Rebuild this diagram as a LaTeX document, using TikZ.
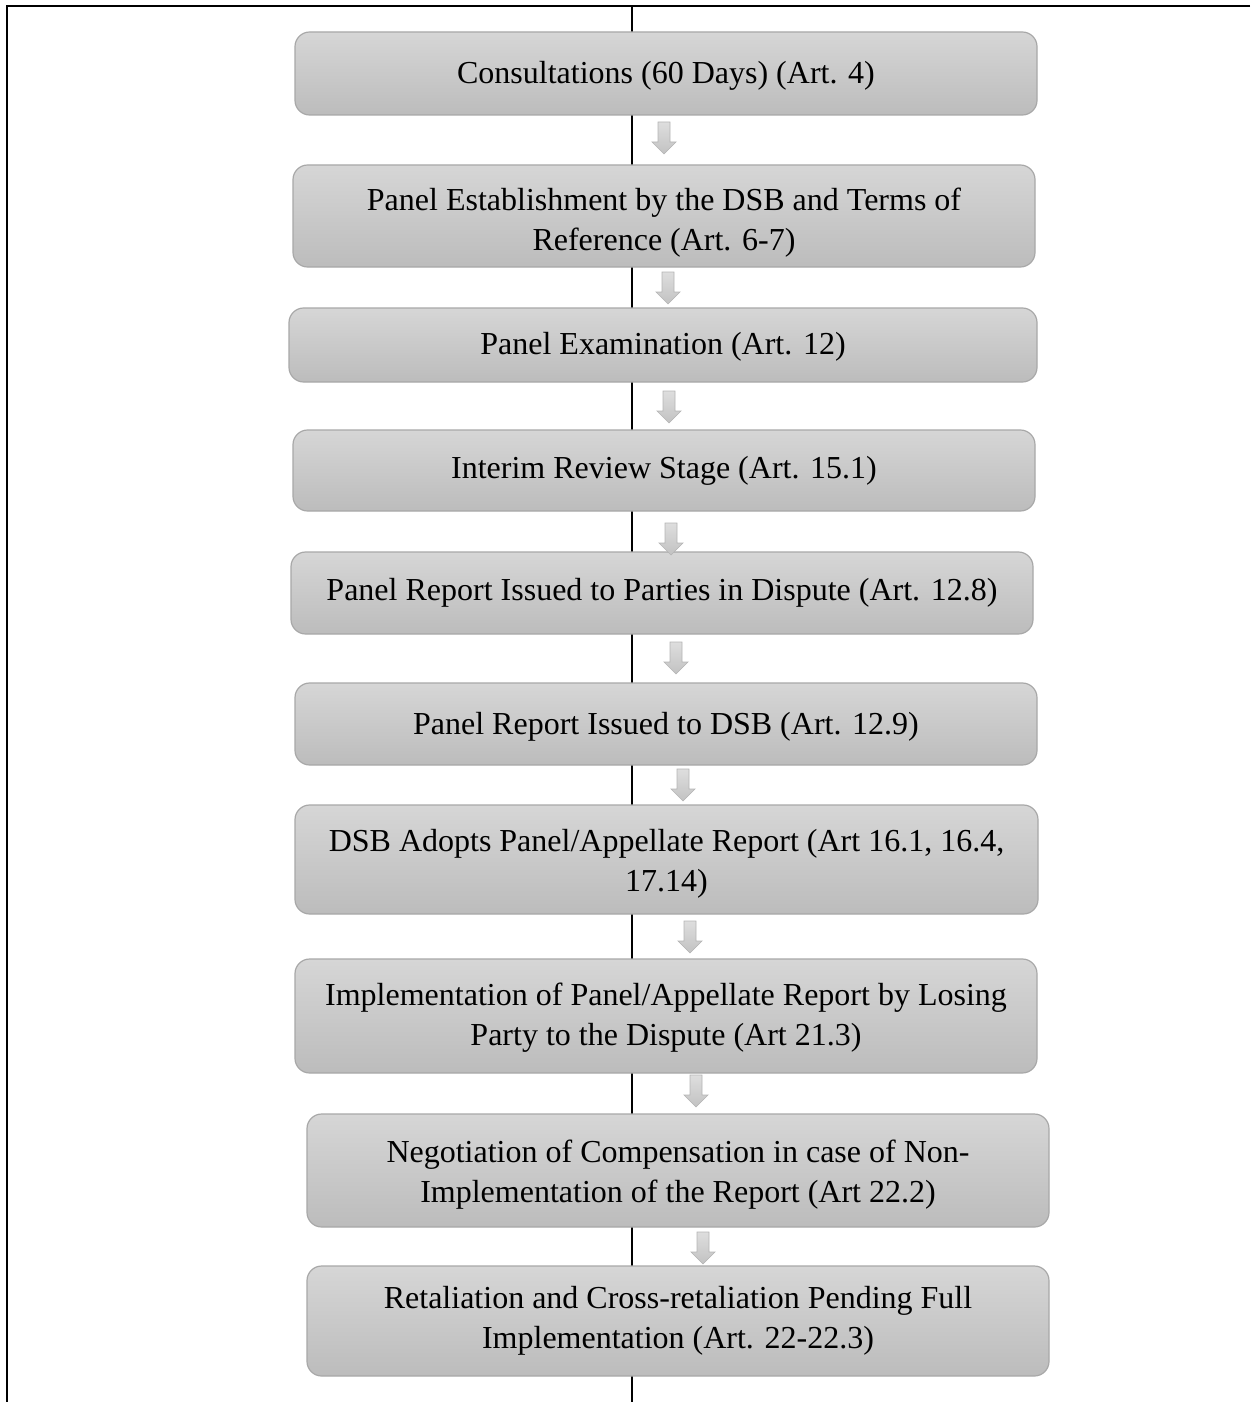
\documentclass[tikz,border=0pt]{standalone}
\usepackage{fontspec}
\setmainfont{Liberation Serif}
\begin{document}
\begin{tikzpicture}[x=0.75pt,y=-0.75pt,
  stagebox/.style={draw=boxline, line width=0.9pt, rounded corners=11pt,
    top color=boxtop, bottom color=boxbot, inner sep=0pt},
  stagetext/.style={align=center, inner sep=0pt,
    font=\fontsize{24pt}{30pt}\selectfont, text=black},
  framerule/.style={line width=1.6pt, black},
  blockarrow/.style={draw=arrline, line width=0.5pt, top color=arrtop, bottom color=arrbot}]
\definecolor{boxline}{HTML}{A8A8A8}
\definecolor{boxtop}{HTML}{D6D6D6}
\definecolor{boxbot}{HTML}{BCBCBC}
\definecolor{arrline}{HTML}{B4B4B4}
\definecolor{arrtop}{HTML}{DEDEDE}
\definecolor{arrbot}{HTML}{C2C2C2}
\useasboundingbox (0,0) rectangle (1253,1402);
% frame
\coordinate (tl) at (7,6);
\coordinate (tr) at (1250,6);
\coordinate (bl) at (7,1402);
\coordinate (tc) at (632,6);
\coordinate (bc) at (632,1402);
\draw[framerule] (tr) -- (tl) -- (bl);
\draw[framerule] (tc) -- (bc);
% boxes: name, x1, y1, x2, y2, text shift (px, downward), text
\newcommand{\stage}[7]{%
  \node[stagebox, minimum width={(#4-#2)*0.75pt}, minimum height={(#5-#3)*0.75pt}]
    (#1) at ({(#2+#4)/2},{(#3+#5)/2}) {};
  \node[stagetext] (#1t) at ([yshift={-(#6)*0.75pt}]#1.center) {#7};}
\stage{b1}{295}{32}{1037}{115}{2}{Consultations (60 Days) (Art. 4)}
\stage{b2}{293}{165}{1035}{267}{7}{Panel Establishment by the DSB and Terms of\\Reference (Art. 6-7)}
\stage{b3}{289}{308}{1037}{382}{2}{Panel Examination (Art. 12)}
\stage{b4}{293}{430}{1035}{511}{0}{Interim Review Stage (Art. 15.1)}
\stage{b5}{291}{552}{1033}{634}{0}{Panel Report Issued to Parties in Dispute (Art. 12.8)}
\stage{b6}{295}{683}{1037}{765}{3}{Panel Report Issued to DSB (Art. 12.9)}
\stage{b7}{295}{805}{1038}{914}{4}{DSB Adopts Panel/Appellate Report (Art 16.1, 16.4,\\17.14)}
\stage{b8}{295}{959}{1037}{1073}{2}{Implementation of Panel/Appellate Report by Losing\\Party to the Dispute (Art 21.3)}
\stage{b9}{307}{1114}{1049}{1227}{4}{Negotiation of Compensation in case of Non-\\Implementation of the Report (Art 22.2)}
\stage{b10}{307}{1266}{1049}{1376}{0}{Retaliation and Cross-retaliation Pending Full\\Implementation (Art. 22-22.3)}
% arrows (coordinate = top centre of shaft)
\newcommand{\downarr}[3]{%
  \coordinate (#1) at (#2,#3);
  \path[blockarrow] (#1) ++(-6,0) -- ++(12,0) -- ++(0,20) -- ++(6,0) -- ++(-12,12) -- ++(-12,-12) -- ++(6,0) -- cycle;}
\downarr{a1}{664}{122}
\downarr{a2}{668}{272}
\downarr{a3}{669}{391}
\downarr{a4}{671}{523}
\downarr{a5}{676}{642}
\downarr{a6}{683}{769}
\downarr{a7}{690}{921}
\downarr{a8}{696}{1075}
\downarr{a9}{703}{1232}
\end{tikzpicture}
\end{document}
